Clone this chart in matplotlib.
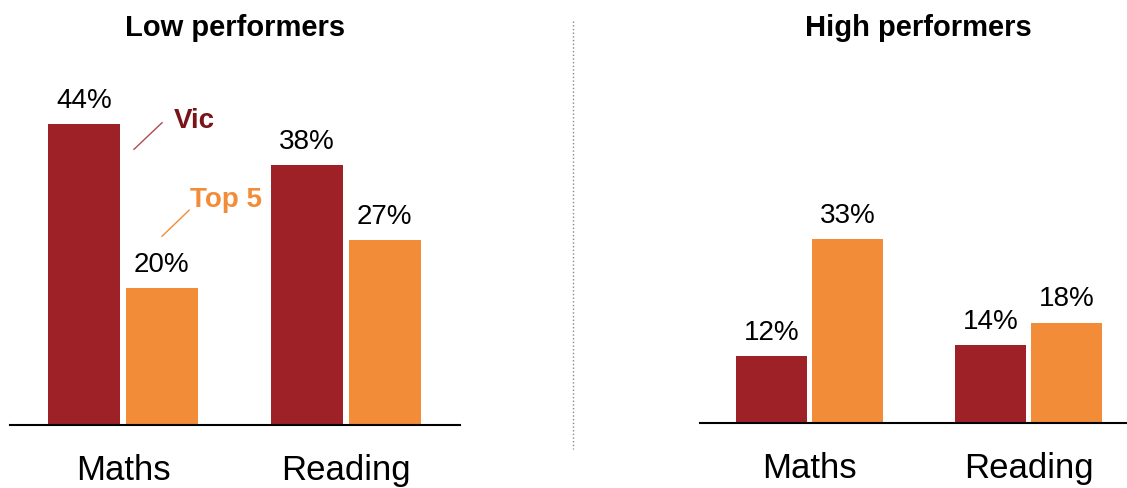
import numpy as np
import matplotlib.pyplot as plt
from matplotlib.lines import Line2D

plt.rcParams['font.family'] = ['Liberation Sans', 'DejaVu Sans']

categories = ['Maths', 'Reading']
low_vic = [44, 38]
low_top5 = [20, 27]
high_vic = [12, 14]
high_top5 = [33, 18]

vic_color = '#9E2127'
top5_color = '#F28C38'

W, H = 1127, 489
fig = plt.figure(figsize=(W / 100, H / 100), dpi=100)

# axes placed in pixel terms: (left, baseline, right, top)
ax1 = fig.add_axes([10 / W, (H - 426) / H, 450 / W, (426 - 60) / H])
ax2 = fig.add_axes([700 / W, (H - 424) / H, 427 / W, (424 - 60) / H])

x = np.arange(len(categories))
width = 0.325
off = 0.174


def draw(ax, vic, top5, ymax, xlim):
    b1 = ax.bar(x - off, vic, width, color=vic_color)
    b2 = ax.bar(x + off, top5, width, color=top5_color)
    for bars in (b1, b2):
        for rect in bars:
            h = rect.get_height()
            ax.annotate(f'{h:.0f}%', (rect.get_x() + rect.get_width() / 2, h),
                        xytext=(0, 8), textcoords='offset points',
                        ha='center', va='bottom', fontsize=20)
    ax.set_ylim(0, ymax)
    ax.set_xlim(*xlim)
    ax.set_xticks(x)
    ax.set_xticklabels(categories, fontsize=25)
    ax.tick_params(axis='x', length=0, pad=20)
    ax.set_yticks([])
    for s in ('left', 'right', 'top'):
        ax.spines[s].set_visible(False)
    ax.spines['bottom'].set_linewidth(1.5)
    ax.patch.set_visible(False)


draw(ax1, low_vic, low_top5, 366 / 6.84, (-0.507, 1.511))
draw(ax2, high_vic, high_top5, 364 / 5.58, (-0.50, 1.45))

# series labels with leader lines
ax1.text(0.228, 44.6, 'Vic', color='#7A1418', fontsize=20, fontweight='bold',
         ha='left', va='center')
ax1.plot([0.049, 0.175], [40.3, 44.2], color='#B04A55', lw=1)
ax1.text(0.302, 33.0, 'Top 5', color=top5_color, fontsize=20, fontweight='bold',
         ha='left', va='center')
ax1.plot([0.175, 0.296], [27.6, 31.4], color=top5_color, lw=1)

fig.text(235 / W, 1 - 28 / H, 'Low performers', ha='center', va='center',
         fontsize=21, fontweight='bold')
fig.text(918 / W, 1 - 28 / H, 'High performers', ha='center', va='center',
         fontsize=21, fontweight='bold')

fig.add_artist(Line2D([573 / W, 573 / W], [1 - 22 / H, 1 - 450 / H],
                      color='#888888', lw=1, linestyle=':'))

plt.savefig('out.png', dpi=100)
